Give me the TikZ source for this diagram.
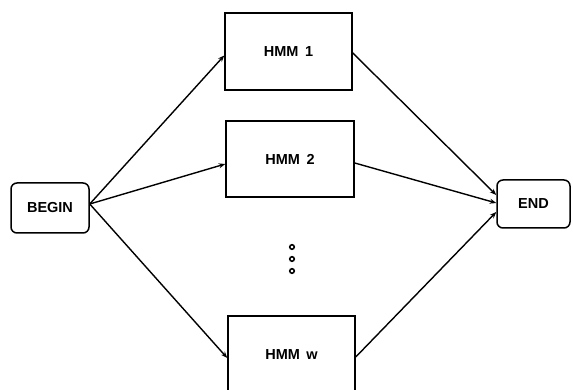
\documentclass[tikz,border=0pt]{standalone}
\usepackage{fontspec}
\setmainfont{Liberation Sans}
\usetikzlibrary{arrows.meta}
\begin{document}
\begin{tikzpicture}[x=1pt,y=1pt,
  hmmbox/.style={draw,line width=1.5pt,minimum width=127pt,minimum height=77pt,inner sep=0pt,font=\fontsize{14.5}{16}\selectfont\bfseries},
  termbox/.style={draw,line width=1.5pt,rounded corners=6pt,inner sep=0pt,font=\fontsize{14.5}{16}\selectfont\bfseries},
  conn/.style={line width=1.4pt,-{Stealth[length=6.5pt,width=5pt]}},
  dotring/.style={draw,line width=1.6pt}]
\useasboundingbox (0,0) rectangle (573,390);
\clip (0,0) rectangle (573,390);
\node[termbox,minimum width=78pt,minimum height=50pt] (begin) at (50,182) {BEGIN};
\node[termbox,minimum width=73pt,minimum height=48pt] (end) at (533.5,186) {END};
\node[hmmbox] (hmm1) at (288.5,338.5) {HMM\hspace{0.45em}1};
\node[hmmbox,minimum width=128pt,minimum height=76pt] (hmm2) at (290,231) {HMM\hspace{0.45em}2};
\node[hmmbox] (hmmw) at (291.5,35.5) {HMM\hspace{0.45em}w};
\node[dotring,circle,minimum size=4.5pt,inner sep=0pt] (d1) at (292,143) {};
\node[dotring,circle,minimum size=4.5pt,inner sep=0pt] (d2) at (292,131) {};
\node[dotring,circle,minimum size=4.5pt,inner sep=0pt] (d3) at (292,119) {};
\coordinate (bo) at ([yshift=4pt]begin.east);
\draw[conn] (bo) -- ([yshift=-4pt]hmm1.west);
\draw[conn] (bo) -- ([yshift=-5pt]hmm2.west);
\draw[conn] (bo) -- ([yshift=-3.5pt]hmmw.west);
\draw[conn] ([yshift=-1.5pt]hmm1.east) -- ([yshift=9pt]end.west);
\draw[conn] ([yshift=-4pt]hmm2.east) -- ([yshift=1pt]end.west);
\draw[conn] ([yshift=-2.5pt]hmmw.east) -- ([yshift=-8pt]end.west);
\end{tikzpicture}
\end{document}
